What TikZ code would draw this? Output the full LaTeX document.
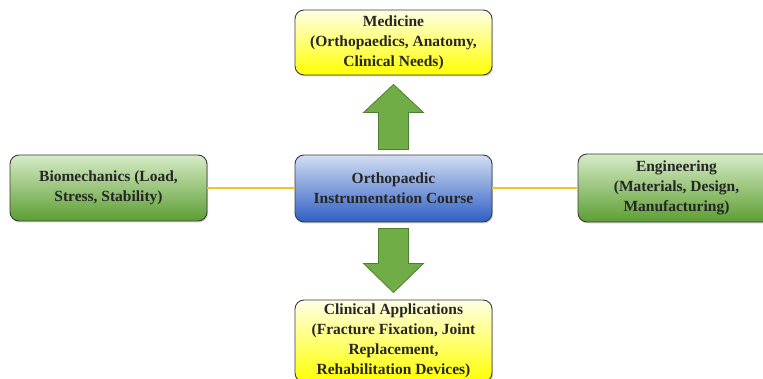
\documentclass[tikz,border=0pt]{standalone}
\usepackage{fontspec}
\setmainfont{Liberation Serif}
\usetikzlibrary{shadows,calc}
\definecolor{bordergray}{HTML}{3C3C3C}
\definecolor{ylwtop}{HTML}{FFFFE6}
\definecolor{ylwbot}{HTML}{FFFF00}
\definecolor{grntop}{HTML}{D6EBC6}
\definecolor{grnbot}{HTML}{5C9E32}
\definecolor{blutop}{HTML}{D2DEF2}
\definecolor{blubot}{HTML}{2E5EC4}
\definecolor{arrowfill}{HTML}{70AD47}
\definecolor{arrowline}{HTML}{4E7F30}
\definecolor{linkgold}{HTML}{F2C12E}
\tikzset{
  box/.style={draw=bordergray, line width=0.9pt, rounded corners=9pt,
    minimum width=197pt, align=center, inner sep=2pt,
    font=\fontsize{15.5}{20}\selectfont\bfseries, text=black!85,
    drop shadow={opacity=0.35, shadow xshift=1pt, shadow yshift=-1.5pt}},
  ybox/.style={box, top color=ylwtop, bottom color=ylwbot},
  gbox/.style={box, top color=grntop, bottom color=grnbot},
  bbox/.style={box, top color=blutop, bottom color=blubot},
  blockarrow/.style={fill=arrowfill, draw=arrowline, line width=0.8pt},
  link/.style={draw=linkgold, line width=2.2pt}
}
\begin{document}
\begin{tikzpicture}[x=1pt,y=-1pt]
\useasboundingbox (0,0) rectangle (763,379);
\fill[white] (0,0) rectangle (763,379);
\node[ybox, minimum height=65pt] (med) at (393.5,42.5) {Medicine\\(Orthopaedics, Anatomy,\\Clinical Needs)};
\node[gbox, minimum height=66pt] (bio) at (108.5,188) {Biomechanics (Load,\\Stress, Stability)};
\node[bbox, minimum height=67pt] (ctr) at (393.5,188.5) {Orthopaedic\\Instrumentation Course};
\node[gbox, minimum height=68pt] (eng) at (676.5,188) {Engineering\\(Materials, Design,\\Manufacturing)};
\node[ybox, minimum height=82pt] (cli) at (393.5,341) {Clinical Applications\\(Fracture Fixation, Joint\\Replacement,\\Rehabilitation Devices)};
\draw[link] (bio.east |- 0,188) -- (ctr.west |- 0,188);
\draw[link] (ctr.east |- 0,188) -- (eng.west |- 0,188);
% up arrow
\draw[blockarrow] ($(ctr.north)+(-15,-5)$) -- ++(0,-37) -- ++(-15,0) -- ($(med.south)+(0,9)$) -- ($(ctr.north)+(30,-42)$) -- ++(-15,0) -- ++(0,37) -- cycle;
% down arrow
\draw[blockarrow] ($(ctr.south)+(-15,6)$) -- ++(0,35) -- ++(-15,0) -- ($(cli.north)+(0,-7)$) -- ($(ctr.south)+(30,41)$) -- ++(-15,0) -- ++(0,-35) -- cycle;
\end{tikzpicture}
\end{document}
